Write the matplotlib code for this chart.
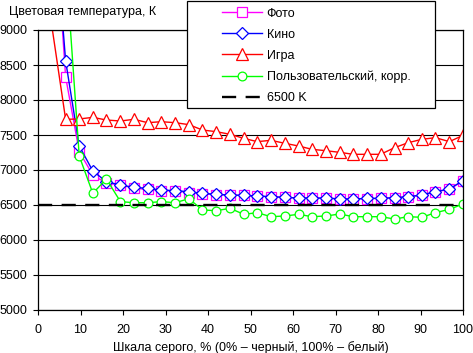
import matplotlib
matplotlib.use('Agg')
import matplotlib.pyplot as plt
from matplotlib.patches import Rectangle

plt.rcParams['font.family'] = ['Liberation Sans', 'DejaVu Sans']
plt.rcParams['font.size'] = 9

# grey level, % (32 steps)
gray = [0, 3.2, 6.5, 9.7, 12.9, 16.1, 19.4, 22.6, 25.8, 29.0, 32.3, 35.5,
        38.7, 41.9, 45.2, 48.4, 51.6, 54.8, 58.1, 61.3, 64.5, 67.7, 71.0,
        74.2, 77.4, 80.6, 83.9, 87.1, 90.3, 93.5, 96.8, 100]

foto = [14000, 11300, 8330, 7262, 6929, 6810, 6786, 6738, 6724, 6705, 6700,
        6676, 6662, 6648, 6640, 6636, 6626, 6616, 6608, 6598, 6598, 6598,
        6588, 6586, 6592, 6594, 6602, 6616, 6640, 6686, 6726, 6845]
kino = [13500, 11070, 8560, 7343, 6986, 6833, 6786, 6752, 6738, 6714, 6705,
        6690, 6667, 6652, 6643, 6638, 6629, 6619, 6610, 6600, 6600, 6598,
        6588, 6586, 6595, 6595, 6605, 6619, 6643, 6690, 6729, 6848]
igra = [13000, 9080, 7724, 7729, 7752, 7714, 7700, 7724, 7676, 7690, 7676,
        7648, 7571, 7548, 7510, 7452, 7405, 7424, 7381, 7343, 7295, 7276,
        7252, 7224, 7224, 7224, 7319, 7390, 7438, 7462, 7405, 7495]
polz = [12000, 11500, 10000, 7200, 6667, 6871, 6548, 6533, 6533, 6548, 6533,
        6590, 6429, 6419, 6452, 6367, 6390, 6333, 6343, 6367, 6333, 6343,
        6371, 6333, 6333, 6333, 6300, 6333, 6324, 6390, 6438, 6514]
target = 6500

W, H = 473, 353
fig = plt.figure(figsize=(W / 100, H / 100), dpi=100)
ax = fig.add_axes([38 / W, 1 - 310 / H, 425 / W, 280 / H])

ax.set_xlim(0, 100)
ax.set_ylim(5000, 9000)
ax.set_xticks(range(0, 101, 10))
ax.set_yticks(range(5000, 9001, 500))
ax.grid(axis='y', color='black', lw=0.8)
ax.set_axisbelow(True)
for s in ax.spines.values():
    s.set_color('black')
    s.set_linewidth(0.9)
ax.tick_params(direction='out', length=3.6, width=0.8, color='black')
ax.tick_params(axis='x', pad=6.5)
ax.tick_params(axis='y', pad=4)


def shown(vals):
    # no markers for points above the plot area (as in the original)
    return [i for i, v in enumerate(vals) if v <= 9000]


ax.plot(gray, foto, color='#ff00ff', lw=1, marker='s', ms=6.5, mfc='white',
        mec='#ff00ff', mew=0.9, markevery=shown(foto), label='Фото')
ax.plot(gray, kino, color='#0000ff', lw=1, marker='D', ms=6, mfc='white',
        mec='#0000ff', mew=0.9, markevery=shown(kino), label='Кино')
ax.plot(gray, igra, color='#ff0000', lw=1, marker='^', ms=8, mfc='white',
        mec='#ff0000', mew=0.9, markevery=shown(igra), label='Игра')
ax.plot(gray, polz, color='#00ff00', lw=1, marker='o', ms=6.3, mfc='white',
        mec='#00ff00', mew=0.9, markevery=shown(polz),
        label='Пользовательский, корр.')
ax.plot([0, 100], [target, target], color='black', lw=1.7,
        dashes=(6, 4), label='6500 K')

ax.set_xlabel('Шкала серого, % (0% – черный, 100% – белый)', labelpad=3.5)
fig.text(9 / W, 1 - 11.5 / H, 'Цветовая температура, К', ha='left', va='center')

# legend box drawn over the plot area
fig.patches.append(Rectangle((187 / W, 1 - 108 / H), 248 / W, 107 / H,
                             transform=fig.transFigure, facecolor='white',
                             edgecolor='black', lw=0.9, zorder=3))
handles, labels = ax.get_legend_handles_labels()
fig.legend(handles, labels, loc='upper left',
           bbox_to_anchor=(216 / W, 1 - 1.5 / H), bbox_transform=fig.transFigure,
           frameon=False, borderpad=0, handlelength=3.2, handletextpad=0.35,
           labelspacing=0.72, fontsize=9)

fig.savefig('out.png', dpi=100)
